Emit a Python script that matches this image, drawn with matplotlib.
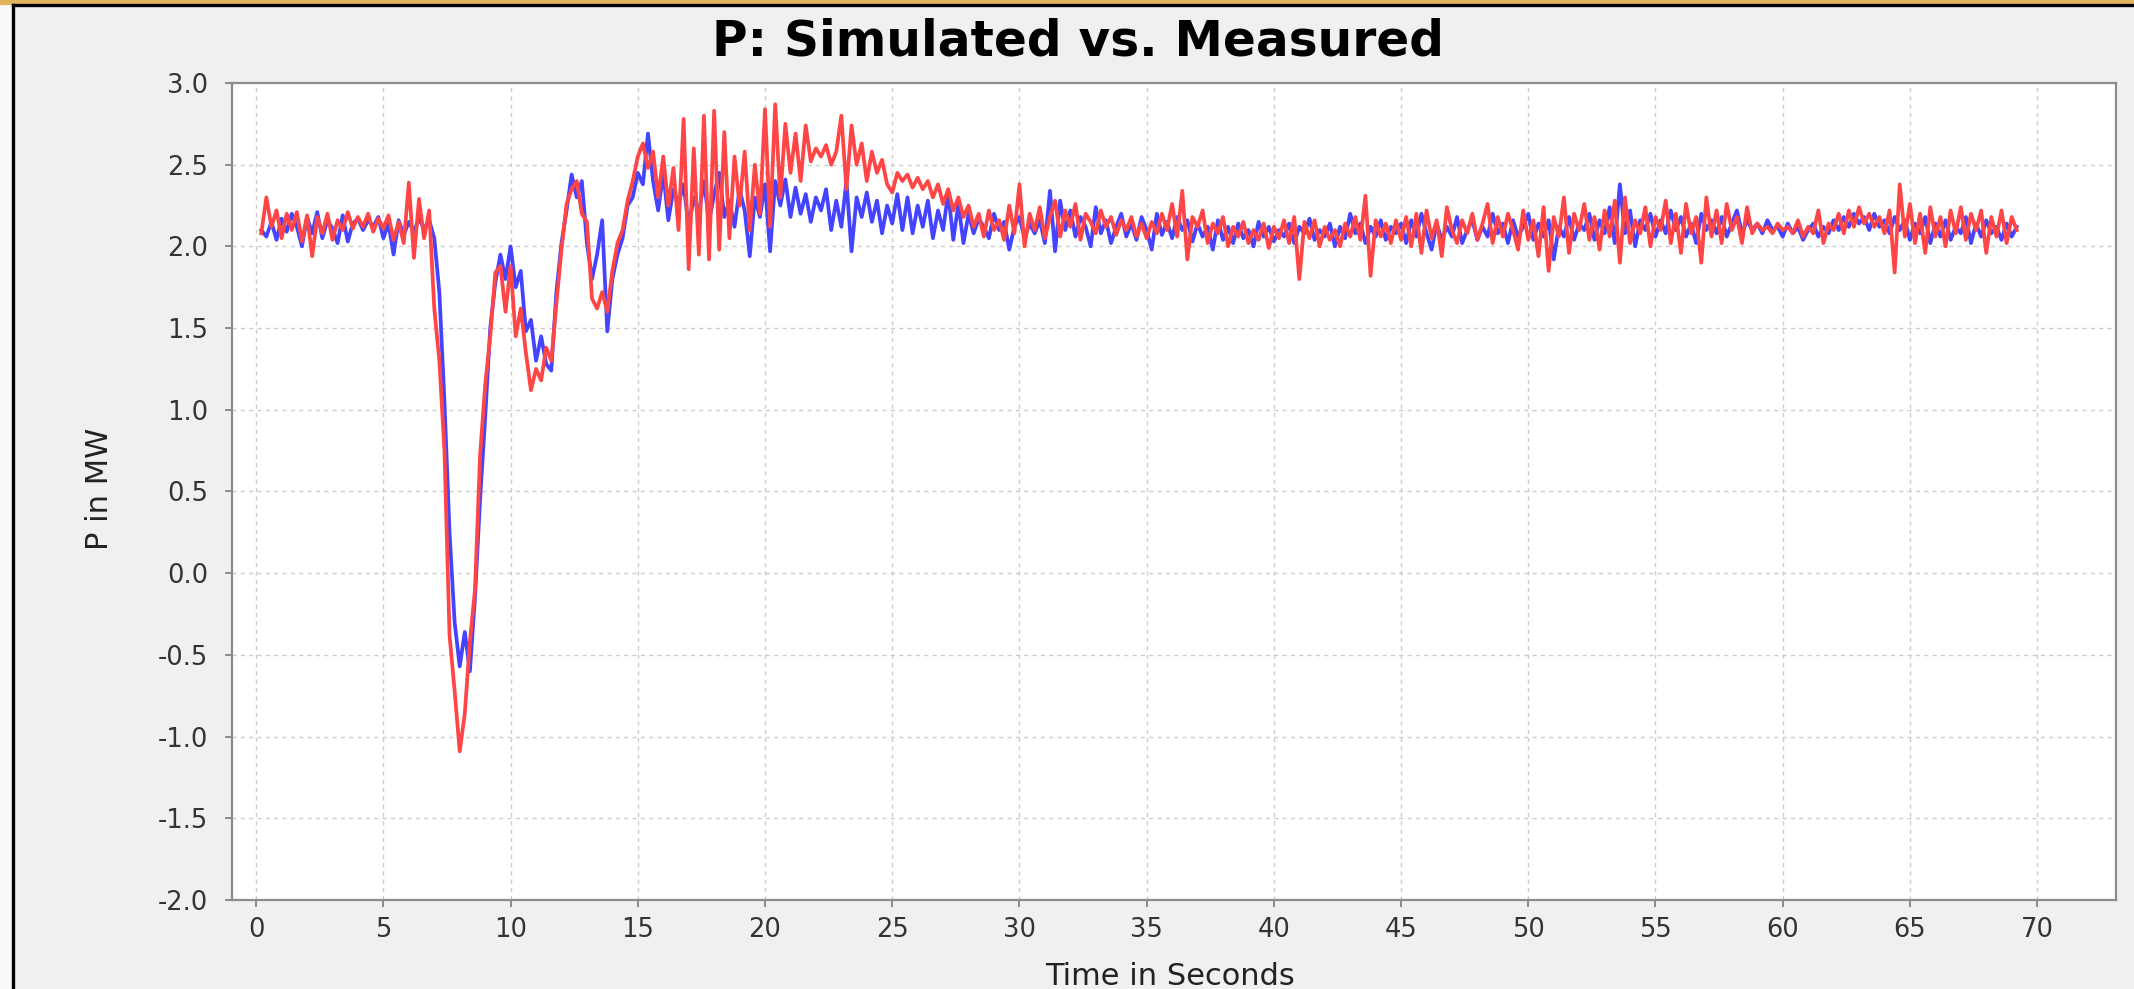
import numpy as np
import matplotlib.pyplot as plt
from matplotlib.patches import Rectangle
from matplotlib.lines import Line2D

# sample grid of the traces (seconds)
t_start = 0.2
t_step = 0.2

# blue trace, one row per second (values in MW)
p_measured = [
    2.10, 2.06, 2.15, 2.04, 2.17,
    2.09, 2.20, 2.12, 2.00, 2.18,
    2.08, 2.21, 2.05, 2.16, 2.11,
    2.02, 2.19, 2.03, 2.14, 2.17,
    2.10, 2.16, 2.12, 2.18, 2.05,
    2.14, 1.95, 2.16, 2.07, 2.15,
    2.09, 2.17, 2.11, 2.16, 2.05,
    1.72, 1.05, 0.25, -0.30, -0.57,
    -0.36, -0.60, -0.15, 0.45, 0.95,
    1.50, 1.78, 1.95, 1.80, 2.00,
    1.75, 1.85, 1.48, 1.55, 1.30,
    1.45, 1.28, 1.24, 1.72, 2.02,
    2.22, 2.44, 2.30, 2.40, 2.02,
    1.80, 1.95, 2.16, 1.48, 1.80,
    1.95, 2.05, 2.25, 2.30, 2.45,
    2.38, 2.69, 2.40, 2.22, 2.45,
    2.16, 2.35, 2.26, 2.38, 2.12,
    2.30, 2.20, 2.40, 2.15, 2.32,
    2.45, 2.18, 2.28, 2.12, 2.35,
    2.22, 1.94, 2.30, 2.18, 2.38,
    1.97, 2.40, 2.25, 2.41, 2.18,
    2.36, 2.20, 2.32, 2.15, 2.30,
    2.22, 2.35, 2.10, 2.28, 2.12,
    2.40, 1.97, 2.30, 2.18, 2.33,
    2.15, 2.28, 2.08, 2.25, 2.14,
    2.32, 2.10, 2.30, 2.08, 2.25,
    2.12, 2.28, 2.05, 2.22, 2.10,
    2.33, 2.04, 2.26, 2.02, 2.20,
    2.08, 2.17, 2.12, 2.05, 2.20,
    2.10, 2.15, 1.98, 2.12, 2.18,
    2.05, 2.14, 2.08, 2.16, 2.02,
    2.34, 1.97, 2.28, 2.10, 2.22,
    2.06, 2.18, 2.12, 2.00, 2.24,
    2.08, 2.16, 2.02, 2.12, 2.20,
    2.06, 2.14, 2.04, 2.18, 2.10,
    1.98, 2.20, 2.07, 2.15, 2.05,
    2.18, 2.10, 2.16, 2.03, 2.14,
    2.06, 2.12, 1.98, 2.16, 2.04,
    2.12, 2.02, 2.14, 2.05, 2.10,
    2.00, 2.15, 2.06, 2.12, 2.03,
    2.10, 2.06, 2.14, 2.02, 2.12,
    2.08, 2.17, 2.04, 2.10, 2.06,
    2.14, 2.00, 2.12, 2.05, 2.20,
    2.08, 2.14, 2.02, 2.12, 2.06,
    2.16, 2.04, 2.12, 2.08, 2.14,
    2.02, 2.16, 2.06, 2.20, 2.08,
    1.98, 2.14, 2.04, 2.12, 2.06,
    2.18, 2.02, 2.10, 2.16, 2.04,
    2.12, 2.06, 2.20, 2.08, 2.14,
    2.02, 2.16, 2.06, 2.12, 2.20,
    2.04, 2.14, 2.06, 2.16, 1.92,
    2.12, 2.06, 2.18, 2.04, 2.14,
    2.10, 2.20, 2.04, 2.16, 2.08,
    2.24, 2.02, 2.38, 2.08, 2.22,
    2.00, 2.16, 2.10, 2.20, 2.06,
    2.16, 2.08, 2.22, 2.10, 2.18,
    2.06, 2.14, 2.02, 2.20, 2.10,
    2.16, 2.08, 2.18, 2.06, 2.14,
    2.22, 2.08, 2.16, 2.10, 2.14,
    2.08, 2.16, 2.10, 2.12, 2.06,
    2.14, 2.08, 2.12, 2.04, 2.10,
    2.14, 2.06, 2.12, 2.08, 2.16,
    2.10, 2.18, 2.12, 2.20, 2.14,
    2.18, 2.10, 2.20, 2.12, 2.16,
    2.08, 2.18, 2.10, 2.16, 2.04,
    2.14, 2.08, 2.18, 2.02, 2.14,
    2.06, 2.16, 2.04, 2.12, 2.08,
    2.18, 2.02, 2.14, 2.06, 2.16,
    2.08, 2.12, 2.04, 2.14, 2.06,
    2.12,
]

# red trace, same grid
p_simulated = [
    2.08, 2.30, 2.12, 2.22, 2.05,
    2.20, 2.10, 2.21, 2.03, 2.19,
    1.94, 2.18, 2.08, 2.20, 2.04,
    2.16, 2.10, 2.21, 2.11, 2.18,
    2.12, 2.20, 2.09, 2.17, 2.11,
    2.19, 2.04, 2.15, 2.02, 2.39,
    1.93, 2.29, 2.05, 2.22, 1.62,
    1.30, 0.75, -0.38, -0.72, -1.09,
    -0.86, -0.42, -0.10, 0.72, 1.15,
    1.45, 1.84, 1.88, 1.60, 1.88,
    1.45, 1.62, 1.35, 1.12, 1.25,
    1.18, 1.38, 1.30, 1.65, 1.98,
    2.26, 2.35, 2.40, 2.20, 2.15,
    1.68, 1.62, 1.72, 1.60, 1.85,
    2.02, 2.10, 2.28, 2.40, 2.55,
    2.63, 2.48, 2.58, 2.30, 2.55,
    2.25, 2.48, 2.10, 2.78, 1.86,
    2.60, 1.95, 2.80, 1.92, 2.83,
    1.98, 2.70, 2.05, 2.55, 2.25,
    2.58, 2.10, 2.50, 2.20, 2.84,
    2.12, 2.87, 2.30, 2.75, 2.45,
    2.69, 2.40, 2.74, 2.52, 2.60,
    2.55, 2.62, 2.50, 2.58, 2.80,
    2.35, 2.74, 2.50, 2.63, 2.40,
    2.58, 2.45, 2.53, 2.38, 2.33,
    2.45, 2.40, 2.44, 2.36, 2.42,
    2.35, 2.40, 2.30, 2.38, 2.26,
    2.35, 2.22, 2.30, 2.18, 2.25,
    2.12, 2.20, 2.06, 2.22, 2.10,
    2.16, 2.04, 2.25, 2.08, 2.38,
    2.00, 2.20, 2.10, 2.24, 2.05,
    2.18, 2.28, 2.06, 2.22, 2.12,
    2.26, 2.04, 2.20, 2.15, 2.08,
    2.22, 2.12, 2.18, 2.07, 2.16,
    2.10, 2.18, 2.06, 2.14, 2.05,
    2.15, 2.08, 2.20, 2.10, 2.26,
    2.06, 2.34, 1.92, 2.18, 2.12,
    2.22, 2.02, 2.14, 2.08, 2.18,
    2.00, 2.12, 2.06, 2.15, 2.02,
    2.10, 2.04, 2.14, 1.99, 2.12,
    2.05, 2.16, 2.02, 2.18, 1.80,
    2.15, 2.05, 2.16, 2.00, 2.12,
    2.04, 2.10, 2.00, 2.14, 2.06,
    2.18, 2.04, 2.31, 1.82, 2.16,
    2.06, 2.14, 2.02, 2.16, 2.04,
    2.18, 2.00, 2.20, 1.96, 2.22,
    2.05, 2.16, 1.94, 2.24, 2.10,
    2.02, 2.16, 2.08, 2.20, 2.04,
    2.14, 2.26, 2.02, 2.18, 2.06,
    2.20, 2.10, 1.98, 2.22, 2.04,
    2.16, 1.94, 2.24, 1.85, 2.18,
    2.06, 2.30, 1.96, 2.20, 2.10,
    2.26, 2.04, 2.18, 1.98, 2.22,
    2.06, 2.28, 1.90, 2.30, 2.02,
    2.16, 2.08, 2.24, 2.00, 2.18,
    2.10, 2.28, 2.02, 2.20, 1.96,
    2.26, 2.08, 2.18, 1.90, 2.30,
    2.06, 2.22, 2.02, 2.26, 2.10,
    2.18, 2.02, 2.24, 2.08, 2.14,
    2.10, 2.12, 2.08, 2.14, 2.10,
    2.12, 2.08, 2.16, 2.06, 2.12,
    2.08, 2.22, 2.02, 2.14, 2.10,
    2.20, 2.08, 2.22, 2.12, 2.24,
    2.14, 2.20, 2.12, 2.18, 2.08,
    2.22, 1.84, 2.38, 2.06, 2.26,
    2.02, 2.20, 1.96, 2.24, 2.06,
    2.18, 2.00, 2.22, 2.08, 2.24,
    2.04, 2.20, 2.10, 2.22, 1.96,
    2.18, 2.06, 2.22, 2.02, 2.18,
    2.10,
]

x_ticks = [0, 5, 10, 15, 20, 25, 30, 35, 40, 45, 50, 55, 60, 65, 70]
y_ticks = [-2.0, -1.5, -1.0, -0.5, 0.0, 0.5, 1.0, 1.5, 2.0, 2.5, 3.0]

title = 'P: Simulated vs. Measured'
x_label = 'Time in Seconds'
y_label = 'P in MW'

assert len(p_measured) == len(p_simulated)
t = t_start + t_step * np.arange(len(p_measured))

W, H = 2134, 989
fig = plt.figure(figsize=(W / 100, H / 100), dpi=100, facecolor='#f0f0f0')

# plot area in pixels of the reference: x 232..2116, y 83..900
ax = fig.add_axes([232 / W, 1 - 900 / H, (2116 - 232) / W, (900 - 83) / H])
ax.set_facecolor('white')

ax.plot(t, p_measured, color='#4444ff', lw=2.7, zorder=3)
ax.plot(t, p_simulated, color='#ff4646', lw=2.7, zorder=4)

ax.set_xlim(-0.95, 73.1)
ax.set_ylim(-2.0, 3.0)
ax.set_xticks(x_ticks)
ax.set_yticks(y_ticks)
ax.set_yticklabels(['%.1f' % v for v in y_ticks])

ax.grid(True, color='#cccccc', linestyle=(0, (3, 3)), lw=1.0)
ax.set_axisbelow(True)

for s in ax.spines.values():
    s.set_color('#8c8c8c')
    s.set_linewidth(1.6)

ax.tick_params(length=5, width=1.4, color='#8c8c8c', labelsize=18.5,
               labelcolor='#333333')
ax.tick_params(axis='x', pad=7)
ax.tick_params(axis='y', pad=12)

fig.text(0.505, 1 - 41 / H, title, ha='center', va='center',
         fontsize=35, fontweight='bold', color='black')
fig.text(100 / W, 1 - 489 / H, y_label, rotation=90, ha='center',
         va='center', fontsize=22, color='#222222')
fig.text(1170 / W, 0.004, x_label, ha='center', va='baseline',
         fontsize=22, color='#222222')

# window frame of the screenshot
fig.add_artist(Rectangle((0, 0), 12 / W, 1, transform=fig.transFigure,
                         color='#fafafa', zorder=0))
fig.add_artist(Line2D([13 / W, 13 / W], [0, 1 - 5 / H],
                      transform=fig.transFigure, color='black', lw=2.4))
fig.add_artist(Line2D([13 / W, 1], [1 - 5 / H, 1 - 5 / H],
                      transform=fig.transFigure, color='black', lw=2.4))
fig.add_artist(Rectangle((0, 1 - 3.5 / H), 1, 3.5 / H,
                         transform=fig.transFigure, color='#e2b45a'))

fig.savefig('out.png', dpi=100, facecolor=fig.get_facecolor())
